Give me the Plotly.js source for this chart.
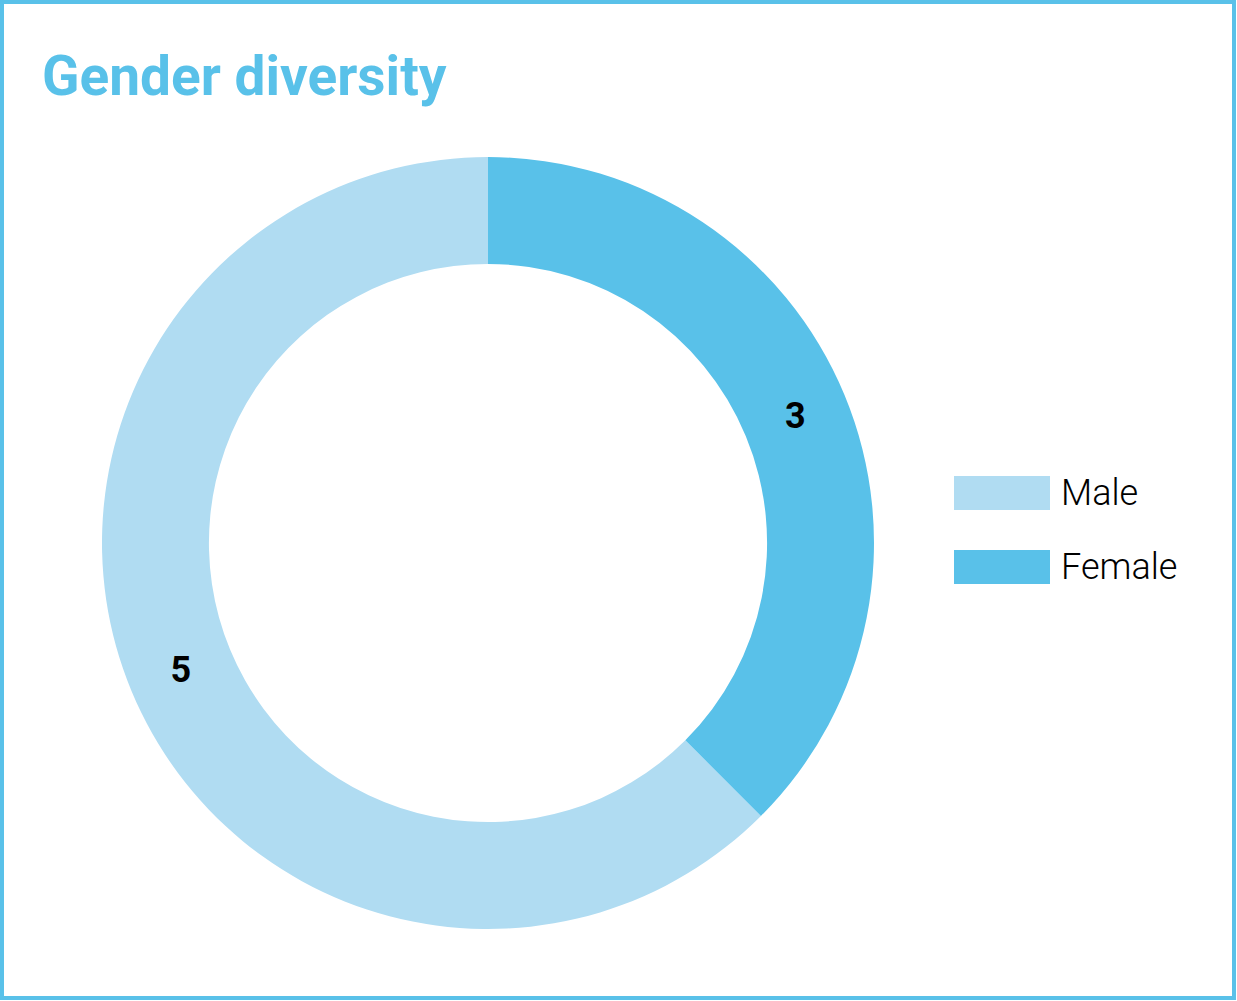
<!DOCTYPE html>
<html>
<head>
<meta charset="utf-8">
<script src="https://cdn.plot.ly/plotly-3.0.1.min.js"></script>
<style>
html,body{margin:0;padding:0;background:#fff;}
#chart{width:1237px;height:1001px;}
</style>
</head>
<body>
<div id="chart"></div>
<script>
const categories = ['Male', 'Female'];
const values = [5, 3];
const colors = ['#B0DCF2', '#59C1E9'];
const titleText = 'Gender diversity';

const W = 1237, H = 1001;
const cx = 488, cy = 543, R = 386;

const trace = {
  type: 'pie',
  labels: categories,
  values: values,
  marker: {colors: colors, line: {width: 0}},
  hole: 0.723,
  sort: false,
  direction: 'clockwise',
  rotation: 135,
  textinfo: 'value',
  textposition: 'inside',
  insidetextorientation: 'horizontal',
  textfont: {family: 'Roboto, sans-serif', size: 36, color: '#000000', weight: 700},
  hoverinfo: 'label+value',
  showlegend: false,
  domain: {x: [(cx - R) / W, (cx + R) / W], y: [1 - (cy + R) / H, 1 - (cy - R) / H]}
};

const shapes = [{
  type: 'rect', xref: 'paper', yref: 'paper',
  x0: 2 / W, x1: 1 - 3 / W, y0: 3 / H, y1: 1 - 2 / H,
  line: {color: '#59C1E9', width: 4}, fillcolor: 'rgba(0,0,0,0)'
}];
const annotations = [];
categories.forEach((c, i) => {
  const top = 476 + i * 74;
  shapes.push({
    type: 'rect', xref: 'paper', yref: 'paper',
    x0: 954 / W, x1: 1050 / W, y0: 1 - (top + 34) / H, y1: 1 - top / H,
    line: {width: 0}, fillcolor: colors[i]
  });
  annotations.push({
    xref: 'paper', yref: 'paper', x: 1059 / W, y: 1 - (top + 17) / H,
    xanchor: 'left', yanchor: 'middle', showarrow: false, text: c,
    font: {family: 'Roboto, sans-serif', size: 36, color: '#000000', weight: 300}
  });
});

const layout = {
  width: W, height: H,
  margin: {l: 0, r: 0, t: 0, b: 0},
  paper_bgcolor: '#ffffff',
  title: {
    text: titleText,
    font: {family: 'Roboto, sans-serif', size: 55, color: '#59C1E9', weight: 700},
    x: 42 / W, xanchor: 'left', xref: 'paper',
    y: 1 - 76 / H, yanchor: 'middle', yref: 'container'
  },
  shapes: shapes,
  annotations: annotations
};

Plotly.newPlot('chart', [trace], layout, {displayModeBar: false, staticPlot: true});
</script>
</body>
</html>
